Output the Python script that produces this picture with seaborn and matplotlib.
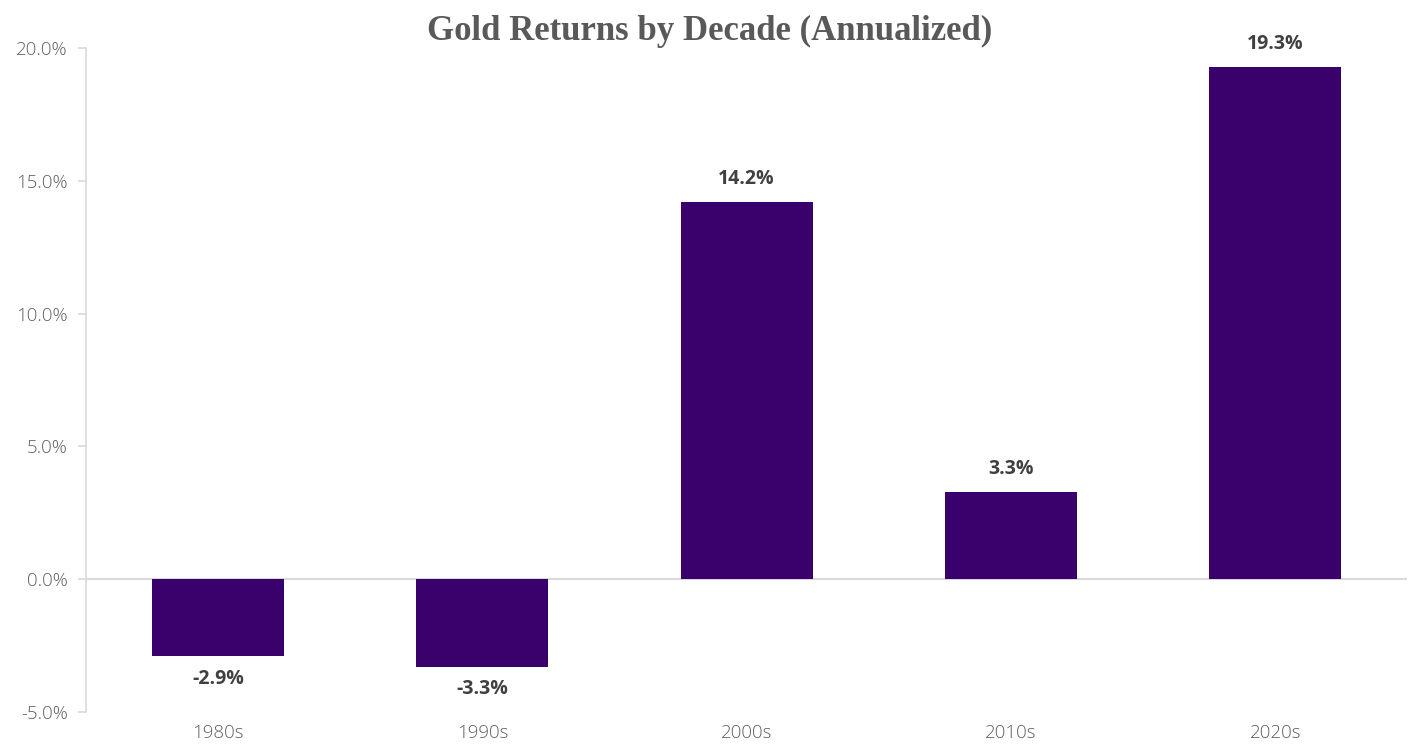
import matplotlib
matplotlib.use("Agg")
import matplotlib.pyplot as plt
import seaborn as sns
import pandas as pd
from matplotlib.ticker import FuncFormatter

decades = ["1980s", "1990s", "2000s", "2010s", "2020s"]
returns = [-2.9, -3.3, 14.2, 3.3, 19.3]
labels = ["-2.9%", "-3.3%", "14.2%", "3.3%", "19.3%"]

sns.set_theme(style="white")
plt.rcParams["font.family"] = ["Open Sans", "DejaVu Sans"]

df = pd.DataFrame({"decade": decades, "ret": returns})

fig = plt.figure(figsize=(14.11, 7.49), dpi=100)
ax = fig.add_axes([0.0609, 0.0494, 0.9365, 0.8866])

sns.barplot(data=df, x="decade", y="ret", color="#3a006b", width=0.5,
            saturation=1, ax=ax, edgecolor="none")

ax.set_ylim(-5, 20)
ax.set_xlim(-0.5, 4.5)
ax.set_yticks([-5, 0, 5, 10, 15, 20])
ax.yaxis.set_major_formatter(FuncFormatter(lambda v, p: f"{v:.1f}%"))
ax.set_xlabel("")
ax.set_ylabel("")

for s in ["top", "right", "bottom"]:
    ax.spines[s].set_visible(False)
ax.spines["left"].set_color("#d9d9d9")
ax.spines["left"].set_linewidth(1.2)
ax.axhline(0, color="#d9d9d9", lw=1.5, zorder=0)

ax.tick_params(axis="y", colors="#d9d9d9", length=6, width=1.2, left=True,
               labelcolor="#5f5f5f", labelsize=13.5, pad=7)
ax.tick_params(axis="x", length=0, labelcolor="#5f5f5f", labelsize=13.5, pad=9)
for t in ax.get_yticklabels() + ax.get_xticklabels():
    t.set_fontweight("light")

for i, (v, lab) in enumerate(zip(returns, labels)):
    if v >= 0:
        ax.annotate(lab, (i, v), xytext=(0, 9), textcoords="offset points",
                    ha="center", va="bottom", fontsize=14, fontweight="bold",
                    color="#404040")
    else:
        ax.annotate(lab, (i, v), xytext=(0, -9), textcoords="offset points",
                    ha="center", va="top", fontsize=14, fontweight="bold",
                    color="#404040")

fig.text(0.503, 0.958, "Gold Returns by Decade (Annualized)", ha="center",
         va="center", fontsize=25, fontweight="bold", color="#595959",
         family=["Liberation Serif", "DejaVu Serif"])

fig.savefig("out.png", dpi=100)
